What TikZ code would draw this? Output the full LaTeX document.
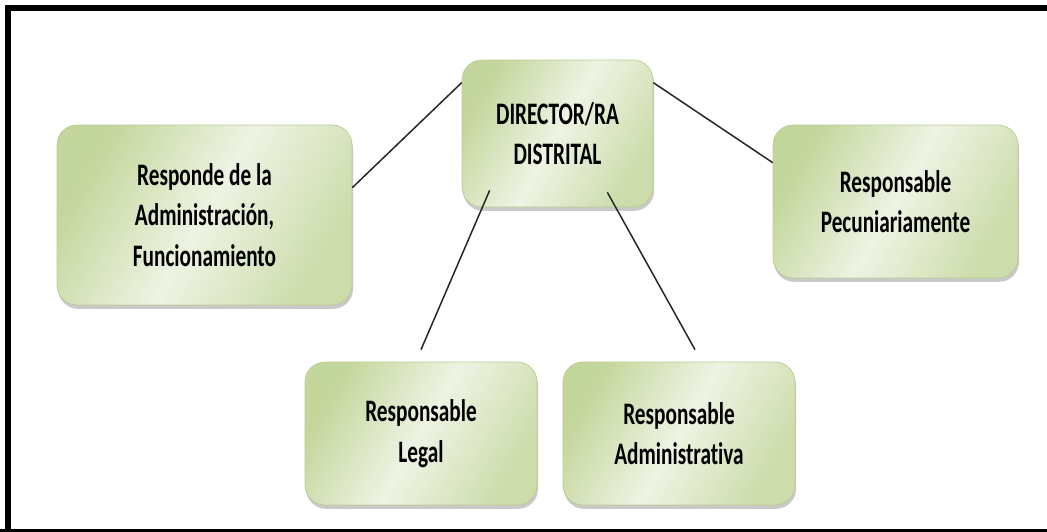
\documentclass[tikz,border=0pt]{standalone}
\usepackage{fontspec}
\setmainfont{Carlito}[FakeStretch=0.68,Ligatures=NoCommon]
\usetikzlibrary{shadows}

\definecolor{boxgreen}{HTML}{C3D69B}
\definecolor{boxlight}{HTML}{EEF3E3}
\definecolor{boxedge}{HTML}{B9CC93}

\tikzset{
  cargo/.style={rounded corners=0.4cm, left color=boxgreen, right color=boxgreen!85!white,
    middle color=boxlight, shading angle=60, draw=boxedge, line width=0.4pt,
    align=center, inner sep=2pt,
    font=\bfseries\fontsize{17.8}{23}\selectfont,
    drop shadow={shadow xshift=0.6pt, shadow yshift=-2.2pt, opacity=0.35, fill=black!60}},
  enlace/.style={line width=0.85pt, black!85}
}

\begin{document}
\begin{tikzpicture}[x=0.02cm,y=0.02cm]
  \clip (0,0) rectangle (1047,531);
  \fill[white] (0,0) rectangle (1047,531);
  % marco
  \draw[line width=0.12cm] (8,-10) -- (8,523) -- (1060,523);
  \draw[line width=0.12cm] (0,-1) -- (1060,-1);

  % cajas
  \node[cargo, minimum width=3.82cm, minimum height=2.94cm] (dir) at (557.5,397.5) {DIRECTOR/RA\\DISTRITAL};
  \node[cargo, minimum width=5.9cm, minimum height=3.6cm] (resp) at (204.5,316) {Responde de la\\Administración,\\Funcionamiento};
  \node[cargo, minimum width=4.9cm, minimum height=3.06cm] (pec) at (895.5,329.5) {Responsable\\Pecuniariamente};
  \node[cargo, minimum width=4.64cm, minimum height=2.86cm] (legal) at (421,97.5) {Responsable\\Legal};
  \node[cargo, minimum width=4.64cm, minimum height=2.86cm] (admin) at (679,97.5) {Responsable\\Administrativa};

  % lineas
  \draw[enlace] ([yshift=-0.46cm]dir.north west) -- ([yshift=-1.26cm]resp.north east);
  \draw[enlace] ([yshift=-0.46cm]dir.north east) -- ([yshift=-0.76cm]pec.north west);
  \draw[enlace] ([xshift=0.56cm,yshift=0.34cm]dir.south west) -- ([yshift=0.24cm]legal.north);
  \draw[enlace] ([xshift=-0.92cm,yshift=0.3cm]dir.south east) -- ([xshift=0.32cm,yshift=0.24cm]admin.north);
\end{tikzpicture}
\end{document}
